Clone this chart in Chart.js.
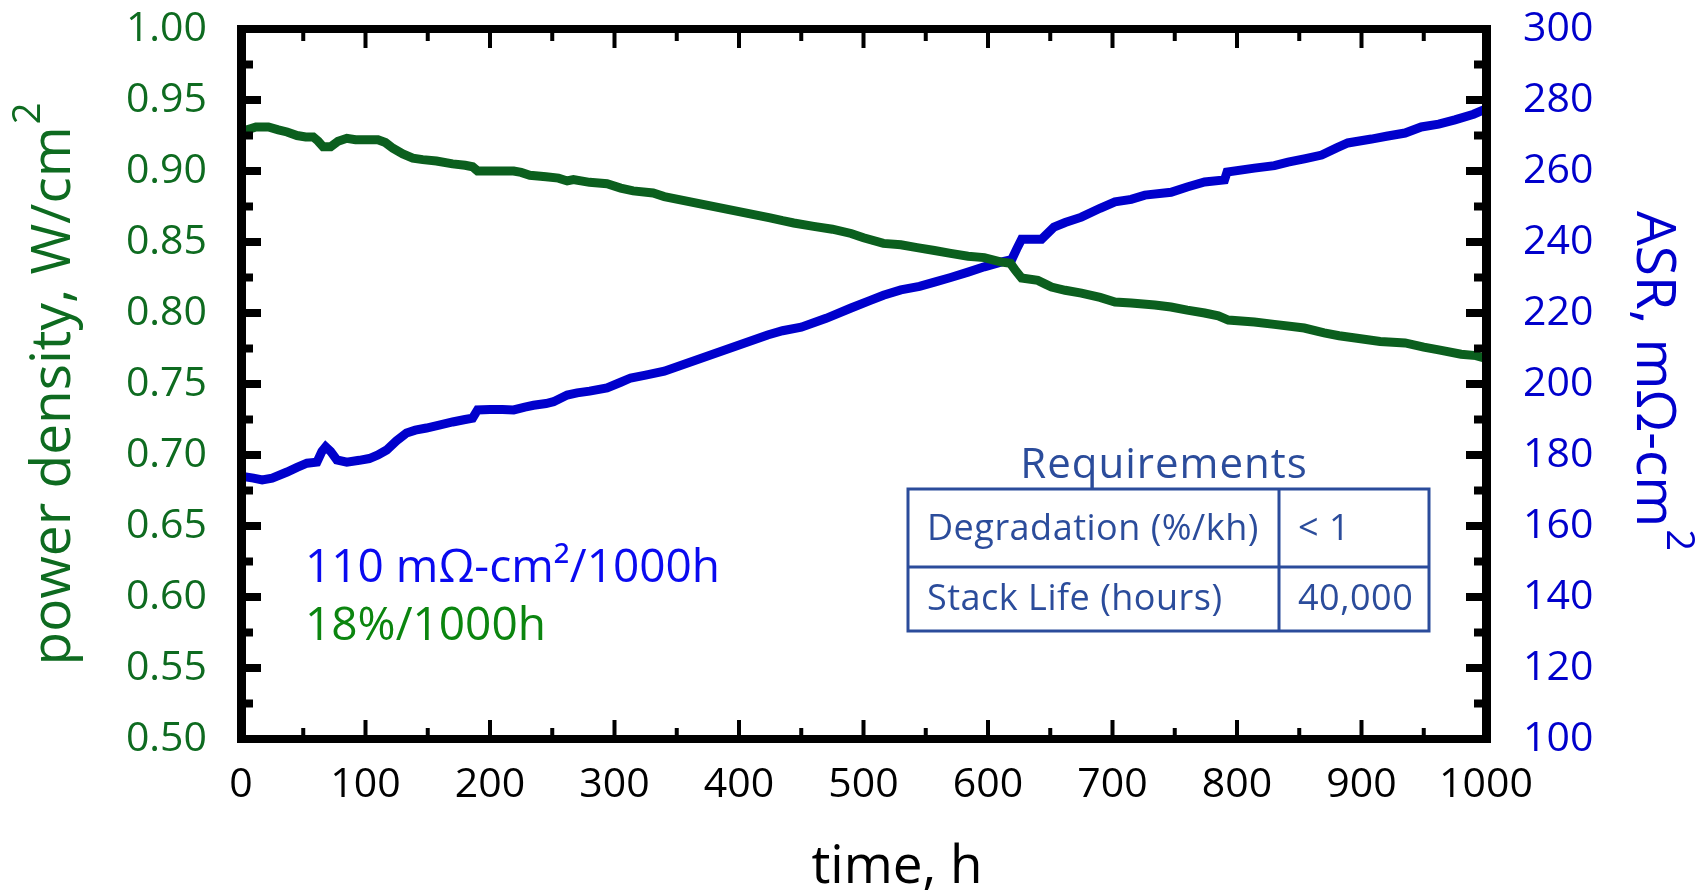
<!DOCTYPE html>
<html>
<head>
<meta charset="utf-8">
<title>Power density and ASR vs time</title>
<script src="https://cdn.jsdelivr.net/npm/chart.js@4.4.1/dist/chart.umd.min.js"></script>
<style>
  html, body { margin: 0; padding: 0; background: #ffffff; }
  #wrap { width: 1705px; height: 895px; position: relative; }
  canvas { display: block; }
</style>
</head>
<body>
<div id="wrap"><canvas id="chart" width="1705" height="895"></canvas></div>
<script>
// ---- Data -------------------------------------------------------------
// Stack power density (W/cm²) over test time (h)
const powerHours = [0, 5, 12, 22, 30, 37, 45, 52, 58, 62, 66, 72, 78, 85, 92, 100, 110, 116, 122, 130,
  138, 146, 157, 170, 180, 186, 190, 200, 210, 219, 225, 232, 245, 255, 262, 267, 280, 294, 305, 315,
  331, 340, 425, 435, 444, 460, 475, 490, 500, 516, 530, 543, 557, 570, 584, 597, 610, 618, 622, 627,
  640, 647, 651, 662, 675, 690, 702, 715, 734, 747, 760, 774, 785, 793, 814, 830, 854, 870, 882, 895,
  915, 935, 950, 962, 980, 992, 1000];
const powerDensity = [0.929, 0.929, 0.931, 0.931, 0.929, 0.9275, 0.925, 0.924, 0.924, 0.921, 0.917, 0.917, 0.921, 0.923, 0.922, 0.922, 0.922, 0.920, 0.916, 0.912,
  0.909, 0.908, 0.907, 0.905, 0.904, 0.903, 0.900, 0.900, 0.900, 0.900, 0.899, 0.897, 0.896, 0.895, 0.893, 0.894, 0.892, 0.891, 0.888, 0.886,
  0.8845, 0.882, 0.867, 0.865, 0.8634, 0.861, 0.859, 0.856, 0.853, 0.849, 0.848, 0.846, 0.844, 0.842, 0.840, 0.839, 0.836, 0.835, 0.830, 0.8246,
  0.823, 0.820, 0.8183, 0.816, 0.814, 0.811, 0.8077, 0.807, 0.8056, 0.8042, 0.802, 0.800, 0.798, 0.795, 0.7937, 0.792, 0.7894, 0.786, 0.784, 0.7824,
  0.780, 0.7789, 0.776, 0.774, 0.771, 0.770, 0.768];

// Area-specific resistance (mΩ-cm²) over test time (h)
const asrHours = [0, 10, 17, 25, 37, 45, 53, 61, 65, 68, 72, 77, 85, 95, 103, 110, 117, 125, 133, 140,
  149, 160, 170, 180, 186, 190, 200, 210, 219, 228, 235, 245, 251, 262, 270, 280, 294, 305, 313, 325,
  340, 423, 435, 450, 470, 490, 505, 516, 530, 545, 557, 570, 584, 597, 611, 619, 623, 627, 643, 653,
  662, 675, 690, 702, 715, 726, 747, 760, 774, 790, 792, 814, 830, 841, 855, 868, 880, 889, 908, 920,
  935, 948, 962, 975, 990, 1000];
const asrValues = [174, 173.5, 173, 173.5, 175.2, 176.5, 177.7, 178, 181, 182.3, 181, 178.6, 178, 178.5, 179, 180, 181.4, 184, 186.2, 187,
  187.6, 188.5, 189.3, 190, 190.4, 192.7, 192.8, 192.8, 192.7, 193.5, 194, 194.5, 195, 196.9, 197.5, 198, 198.9, 200.5, 201.7, 202.5,
  203.6, 213.8, 215, 216, 218.5, 221.4, 223.5, 225, 226.5, 227.5, 228.7, 230, 231.5, 233, 234.4, 235, 238, 240.8, 240.8, 244.2,
  245.5, 247, 249.5, 251.3, 252, 253.2, 254, 255.5, 256.9, 257.5, 259.7, 260.8, 261.5, 262.5, 263.5, 264.5, 266.5, 267.9, 269, 269.8,
  270.7, 272.4, 273.2, 274.4, 276, 277.5];

// Axis ticks
const timeTicks = [0, 100, 200, 300, 400, 500, 600, 700, 800, 900, 1000];
const powerTicks = [0.50, 0.55, 0.60, 0.65, 0.70, 0.75, 0.80, 0.85, 0.90, 0.95, 1.00];
const asrTicks = [100, 120, 140, 160, 180, 200, 220, 240, 260, 280, 300];

// Text
const xTitle = 'time, h';
const leftTitle = 'power density, W/cm';
const rightTitle = 'ASR, mΩ-cm';
const asrRateLabel = '110 mΩ-cm²/1000h';
const powerRateLabel = '18%/1000h';
const requirementsTitle = 'Requirements';
const requirementRows = [
  ['Degradation (%/kh)', '< 1'],
  ['Stack Life (hours)', '40,000']
];

// ---- Styles -----------------------------------------------------------
const FONT = '"Open Sans", "Noto Sans", "DejaVu Sans", sans-serif';
const GREEN_LINE = '#0b5f1e';
const GREEN_TEXT = '#0e6b20';
const GREEN_NOTE = '#0b850f';
const BLUE_LINE = '#0000cc';
const BLUE_TEXT = '#0000cc';
const BLUE_NOTE = '#0a0af0';
const TABLE_BLUE = '#2b4c9b';

const toPoints = (xs, ys) => xs.map((x, i) => ({ x: x, y: ys[i] }));
const midpoints = arr => arr.slice(1).map((v, i) => (v + arr[i]) / 2);
const noScalePadding = s => { s.paddingTop = 0; s.paddingBottom = 0; s.paddingLeft = 0; s.paddingRight = 0; };

// Frame, inward tick marks, titles, annotations and requirements table
const decorations = {
  id: 'decorations',
  afterDatasetsDraw(chart) {
    const { ctx, chartArea: a, scales } = chart;
    const L = a.left, R = a.right, T = a.top, B = a.bottom;
    ctx.save();
    ctx.fillStyle = '#000';

    // inward tick marks on all four sides
    timeTicks.forEach(v => {
      const x = scales.x.getPixelForValue(v);
      ctx.fillRect(x - 2, B - 19, 4, 19);
      ctx.fillRect(x - 2, T, 4, 19);
    });
    midpoints(timeTicks).forEach(v => {
      const x = scales.x.getPixelForValue(v);
      ctx.fillRect(x - 2, B - 11, 4, 11);
      ctx.fillRect(x - 2, T, 4, 12);
    });
    powerTicks.forEach(v => {
      const y = scales.y.getPixelForValue(v);
      ctx.fillRect(L, y - 4, 20, 8);
    });
    midpoints(powerTicks).forEach(v => {
      const y = scales.y.getPixelForValue(v);
      ctx.fillRect(L, y - 4, 12, 8);
    });
    asrTicks.forEach(v => {
      const y = scales.y2.getPixelForValue(v);
      ctx.fillRect(R - 20, y - 4, 20, 8);
    });
    midpoints(asrTicks).forEach(v => {
      const y = scales.y2.getPixelForValue(v);
      ctx.fillRect(R - 12, y - 4, 12, 8);
    });

    // heavy frame
    ctx.fillRect(L - 4, T - 4, R - L + 9, 8);
    ctx.fillRect(L - 4, B - 4, R - L + 9, 8);
    ctx.fillRect(L - 4, T - 4, 9, B - T + 8);
    ctx.fillRect(R - 4, T - 4, 9, B - T + 8);

    // x axis title
    ctx.fillStyle = '#000';
    ctx.font = '53px ' + FONT;
    ctx.textAlign = 'center';
    ctx.textBaseline = 'alphabetic';
    ctx.fillText(xTitle, 897, 883);

    // left axis title with superscript
    const midY = (T + B) / 2;
    ctx.save();
    ctx.translate(70, midY);
    ctx.rotate(-Math.PI / 2);
    ctx.font = '55px ' + FONT;
    const lw = ctx.measureText(leftTitle).width;
    ctx.font = '38px ' + FONT;
    const sw = ctx.measureText('2').width;
    const startL = -(lw + sw + 2) / 2;
    ctx.fillStyle = GREEN_TEXT;
    ctx.textAlign = 'left';
    ctx.font = '55px ' + FONT;
    ctx.fillText(leftTitle, startL, 0);
    ctx.font = '38px ' + FONT;
    ctx.fillText('2', startL + lw + 2, -30);
    ctx.restore();

    // right axis title with superscript
    ctx.save();
    ctx.translate(1637, midY - 3);
    ctx.rotate(Math.PI / 2);
    ctx.font = '55px ' + FONT;
    const rw = ctx.measureText(rightTitle).width;
    const startR = -(rw + sw + 2) / 2;
    ctx.fillStyle = BLUE_TEXT;
    ctx.textAlign = 'left';
    ctx.fillText(rightTitle, startR, 0);
    ctx.font = '38px ' + FONT;
    ctx.fillText('2', startR + rw + 2, -30);
    ctx.restore();

    // degradation-rate annotations
    ctx.textAlign = 'left';
    ctx.font = '46px ' + FONT;
    ctx.fillStyle = BLUE_NOTE;
    ctx.fillText(asrRateLabel, 305, 582);
    ctx.fillStyle = GREEN_NOTE;
    ctx.fillText(powerRateLabel, 305, 640);

    // requirements table
    ctx.fillStyle = TABLE_BLUE;
    ctx.strokeStyle = TABLE_BLUE;
    ctx.font = '42px ' + FONT;
    ctx.textAlign = 'center';
    if ('letterSpacing' in ctx) ctx.letterSpacing = '1px';
    ctx.fillText(requirementsTitle, 1164, 478);
    const tx0 = 908, tx1 = 1279, tx2 = 1429;
    const rowY = [489, 567, 631];
    ctx.lineWidth = 3;
    ctx.strokeRect(tx0, rowY[0], tx2 - tx0, rowY[2] - rowY[0]);
    ctx.beginPath();
    ctx.moveTo(tx0, rowY[1]); ctx.lineTo(tx2, rowY[1]);
    ctx.moveTo(tx1, rowY[0]); ctx.lineTo(tx1, rowY[2]);
    ctx.stroke();
    ctx.font = '36px ' + FONT;
    if ('letterSpacing' in ctx) ctx.letterSpacing = '0.5px';
    ctx.textAlign = 'left';
    const baselines = [540, 610];
    requirementRows.forEach((row, i) => {
      ctx.fillText(row[0], 927, baselines[i]);
      ctx.fillText(row[1], 1298, baselines[i]);
    });
    if ('letterSpacing' in ctx) ctx.letterSpacing = '0px';

    ctx.restore();
  }
};

function build() {
  new Chart(document.getElementById('chart'), {
    type: 'line',
    data: {
      datasets: [
        {
          label: 'power density',
          data: toPoints(powerHours, powerDensity),
          yAxisID: 'y',
          borderColor: GREEN_LINE,
          borderWidth: 9,
          pointRadius: 0,
          tension: 0,
          fill: false
        },
        {
          label: 'ASR',
          data: toPoints(asrHours, asrValues),
          yAxisID: 'y2',
          borderColor: BLUE_LINE,
          borderWidth: 9,
          pointRadius: 0,
          tension: 0,
          fill: false
        }
      ]
    },
    options: {
      responsive: false,
      animation: false,
      devicePixelRatio: 1,
      layout: { padding: { top: 29, left: 0, right: 0, bottom: 0 } },
      plugins: { legend: { display: false }, tooltip: { enabled: false }, title: { display: false } },
      scales: {
        x: {
          type: 'linear',
          position: 'bottom',
          min: 0, max: 1000,
          afterBuildTicks: s => { s.ticks = timeTicks.map(v => ({ value: v })); },
          ticks: { color: '#000', font: { family: FONT, size: 41 }, padding: 22, maxRotation: 0, autoSkip: false, callback: v => String(v) },
          grid: { display: false, drawTicks: false },
          border: { display: false },
          afterFit: s => { s.height = 156; noScalePadding(s); }
        },
        y: {
          type: 'linear',
          position: 'left',
          min: 0.5, max: 1.0,
          afterBuildTicks: s => { s.ticks = powerTicks.map(v => ({ value: v })); },
          ticks: { color: GREEN_TEXT, font: { family: FONT, size: 41 }, padding: 34, callback: v => Number(v).toFixed(2) },
          grid: { display: false, drawTicks: false },
          border: { display: false },
          afterFit: s => { s.width = 241; noScalePadding(s); }
        },
        y2: {
          type: 'linear',
          position: 'right',
          min: 100, max: 300,
          afterBuildTicks: s => { s.ticks = asrTicks.map(v => ({ value: v })); },
          ticks: { color: BLUE_TEXT, font: { family: FONT, size: 41 }, padding: 37, callback: v => String(v) },
          grid: { display: false, drawTicks: false },
          border: { display: false },
          afterFit: s => { s.width = 219; noScalePadding(s); }
        }
      }
    },
    plugins: [decorations]
  });
}

if (document.fonts && document.fonts.load) {
  Promise.all([
    document.fonts.load('41px "Open Sans"'),
    document.fonts.load('55px "Open Sans"')
  ]).then(build, build);
} else {
  build();
}
</script>
</body>
</html>
